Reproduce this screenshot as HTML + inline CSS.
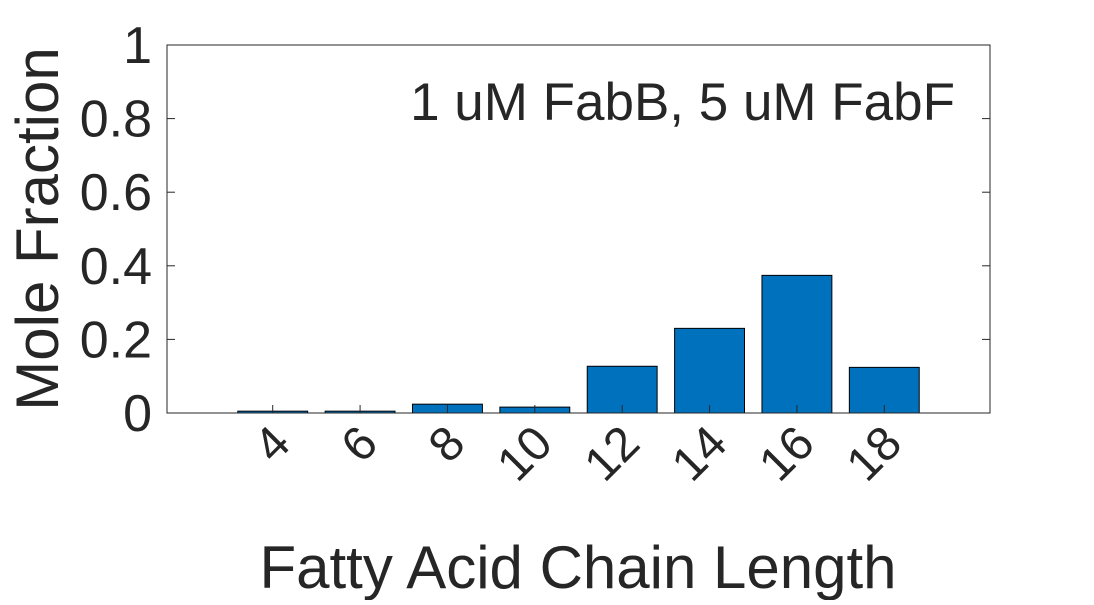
<!DOCTYPE html>
<html><head><meta charset="utf-8"><style>
html,body{margin:0;padding:0;background:#fff;}
svg text{font-family:"Liberation Sans",Arial,sans-serif;fill:#262626;}
</style></head><body>
<svg id="chart" width="1094" height="600" viewBox="0 0 1094 600" xmlns="http://www.w3.org/2000/svg">
<g id="bars"></g>
<rect x="167" y="45" width="823" height="368" fill="none" stroke="#262626" stroke-width="1"/>
<g id="axes"></g>
<text x="955" y="120" font-size="53" text-anchor="end">1 uM FabB, 5 uM FabF</text>
<text x="578" y="588" font-size="60" text-anchor="middle">Fatty Acid Chain Length</text>
<text transform="translate(58,229) rotate(-90)" font-size="60" text-anchor="middle">Mole Fraction</text>
</svg>
<script>
const categories=[4,6,8,10,12,14,16,18];
const values=[0.005,0.005,0.024,0.016,0.127,0.230,0.374,0.124];
const yTicks=[0,0.2,0.4,0.6,0.8,1];
const yTickLabels=["0","0.2","0.4","0.6","0.8","1"];
const NS="http://www.w3.org/2000/svg";
const X0=167,X1=990,Y0=413,Y1=45;
const xmin=1.58,xmax=20.42;
const xs=v=>X0+(v-xmin)/(xmax-xmin)*(X1-X0);
const ys=v=>Y0-v*(Y0-Y1);
const bars=document.getElementById('bars'),axes=document.getElementById('axes');
const bw=(xs(1.6)-xs(0));
categories.forEach((c,i)=>{
 const r=document.createElementNS(NS,'rect');
 
 
 r.setAttribute('x',xs(c)-bw/2);r.setAttribute('width',bw);
 r.setAttribute('y',ys(values[i]));r.setAttribute('height',Y0-ys(values[i]));
 r.setAttribute('fill','#0072BD');r.setAttribute('stroke','#000');r.setAttribute('stroke-width','1');
 bars.appendChild(r);
 const t=document.createElementNS(NS,'line');
 
 
 t.setAttribute('x1',xs(c));t.setAttribute('x2',xs(c));t.setAttribute('y1',Y0);t.setAttribute('y2',Y0-8);
 t.setAttribute('stroke','#262626');axes.appendChild(t);
 const l=document.createElementNS(NS,'text');
 
 
 l.setAttribute('font-size','48');l.setAttribute('text-anchor','end');
 l.setAttribute('transform','translate('+(xs(c)+20)+',446) rotate(-45)');
 l.textContent=c;axes.appendChild(l);
});
yTicks.forEach((v,i)=>{
 [[X0,X0+8],[X1,X1-8]].forEach(p=>{
 const t=document.createElementNS(NS,'line');
 
 
 t.setAttribute('x1',p[0]);t.setAttribute('x2',p[1]);t.setAttribute('y1',ys(v));t.setAttribute('y2',ys(v));
 t.setAttribute('stroke','#262626');axes.appendChild(t);});
 const l=document.createElementNS(NS,'text');
 
 
 l.setAttribute('font-size','52');l.setAttribute('text-anchor','end');
 l.setAttribute('x',152);l.setAttribute('y',ys(v)+18);
 l.textContent=yTickLabels[i];axes.appendChild(l);
});
</script>
</body></html>
